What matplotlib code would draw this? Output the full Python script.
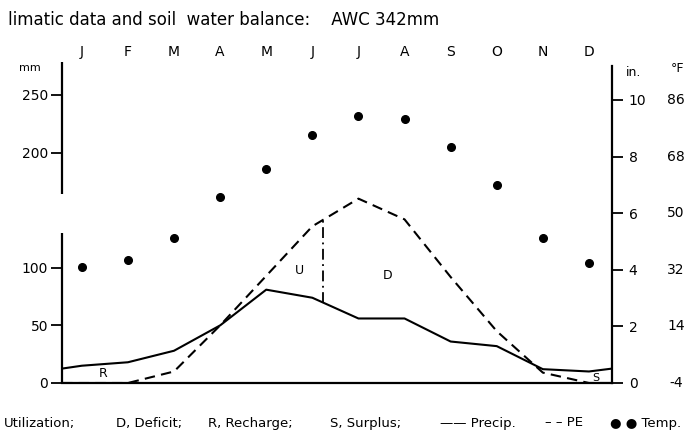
import numpy as np
import matplotlib
matplotlib.use("Agg")
import matplotlib.pyplot as plt
import matplotlib.transforms as mtransforms

plt.rcParams['font.family'] = ['DejaVu Sans']

# data
months = ["J", "F", "M", "A", "M", "J", "J", "A", "S", "O", "N", "D"]
precip_mm = [15, 18, 28, 50, 81, 74, 56, 56, 36, 32, 12, 10]
pe_mm = [0, 0, 10, 50, 93, 136, 160, 142, 92, 45, 9, 0]
temp_f = [33, 35, 42, 55, 64, 75, 81, 80, 71, 59, 42, 34]
left_ticks = [0, 50, 100, 200, 250]
inch_ticks = [0, 2, 4, 6, 8, 10]
degf_labels = ["-4", "14", "32", "50", "68", "86"]
util_end = 6.23  # end of soil-water utilization (month position)

W, H = 694, 438
fig = plt.figure(figsize=(W / 100, H / 100), dpi=100)

def fx(px):
    return px / W

def fy(py):
    return 1 - py / H

ax = fig.add_axes([fx(62), fy(383), fx(612) - fx(62), fy(62) - fy(383)])
ax2 = ax.twinx()

x = np.arange(1, 13)
x0, x1 = 0.57, 12.5
ax.set_xlim(x0, x1)
ax.set_ylim(0, 278.6)
ax2.set_ylim(0, 11.34)

# curves run edge to edge (cyclic value at the year boundary)
xe = np.concatenate([[x0], x, [x1]])
p_edge = (precip_mm[0] + precip_mm[-1]) / 2
e_edge = (pe_mm[0] + pe_mm[-1]) / 2
pe = np.concatenate([[e_edge], pe_mm, [e_edge]])
pr = np.concatenate([[p_edge], precip_mm, [p_edge]])

ax.plot(xe, pr, color="black", lw=1.5)
ax.plot(xe, pe, color="black", lw=1.5, linestyle=(0, (5, 3)))

# end of utilization marker
yb = np.interp(util_end, x, precip_mm)
yt = np.interp(util_end, x, pe_mm)
ax.plot([util_end, util_end], [yb, yt], color="black", lw=1.3,
        linestyle=(0, (6, 2.5, 1, 2.5)))

temp_in = (np.array(temp_f) + 4) / 9.0
ax2.plot(x, temp_in, "o", color="black", markersize=5.5, linestyle="none")

# area letters
ax.text(5.73, 98, "U", fontsize=9, ha="center", va="center")
ax.text(7.64, 93, "D", fontsize=9, ha="center", va="center")
ax.text(1.46, 8, "R", fontsize=9, ha="center", va="center")
ax.text(12.15, 4, "S", fontsize=8, ha="center", va="center")

# spines
for s in ["top", "left", "right"]:
    ax.spines[s].set_visible(False)
for s in ["top", "left", "bottom"]:
    ax2.spines[s].set_visible(False)
ax.spines["bottom"].set_linewidth(1.6)
ax2.spines["right"].set_linewidth(1.6)
ax2.spines["right"].set_bounds(0, 11.2)

# broken left axis line
ax.vlines(x0, 0, 130, color="black", lw=1.6, clip_on=False)
ax.vlines(x0, 164, 278.6, color="black", lw=1.6, clip_on=False)

ax.set_yticks(left_ticks)
ax.set_yticklabels([str(v) for v in left_ticks])
ax.tick_params(axis="y", direction="out", length=8, width=1.3, pad=2, labelsize=10)

ax.set_xticks(x)
ax.set_xticklabels(months)
ax.tick_params(axis="x", top=True, bottom=False, labeltop=True, labelbottom=False,
               length=0, pad=2, labelsize=10)

ax2.set_yticks(inch_ticks)
ax2.set_yticklabels([str(v) for v in inch_ticks])
ax2.tick_params(axis="y", direction="out", length=8, width=1.3, pad=4, labelsize=10)

# deg F column beside the inch labels
tr = mtransforms.blended_transform_factory(ax2.transAxes, ax2.transData)
for t, lab in zip(inch_ticks, degf_labels):
    ax2.text(1 + (676 - 612) / 550, t, lab, transform=tr, fontsize=10,
             ha="center", va="center")

fig.text(fx(8), fy(20), "limatic data and soil  water balance:    AWC 342mm",
         fontsize=12, ha="left", va="center")
fig.text(fx(30), fy(68), "mm", fontsize=8, ha="center", va="center")
fig.text(fx(634), fy(72), "in.", fontsize=9, ha="center", va="center")
fig.text(fx(677), fy(69), "°F", fontsize=9, ha="center", va="center")

# key along the bottom
leg_y = fy(423)
fig.text(fx(4), leg_y, "Utilization;", fontsize=9.5, va="center")
fig.text(fx(116), leg_y, "D, Deficit;", fontsize=9.5, va="center")
fig.text(fx(208), leg_y, "R, Recharge;", fontsize=9.5, va="center")
fig.text(fx(330), leg_y, "S, Surplus;", fontsize=9.5, va="center")
fig.text(fx(440), leg_y, "—— Precip.", fontsize=9.5, va="center")
fig.text(fx(545), leg_y, "– – PE", fontsize=9.5, va="center")
fig.text(fx(610), leg_y, "● ● Temp.", fontsize=9.5, va="center")

fig.savefig("out.png", dpi=100)
